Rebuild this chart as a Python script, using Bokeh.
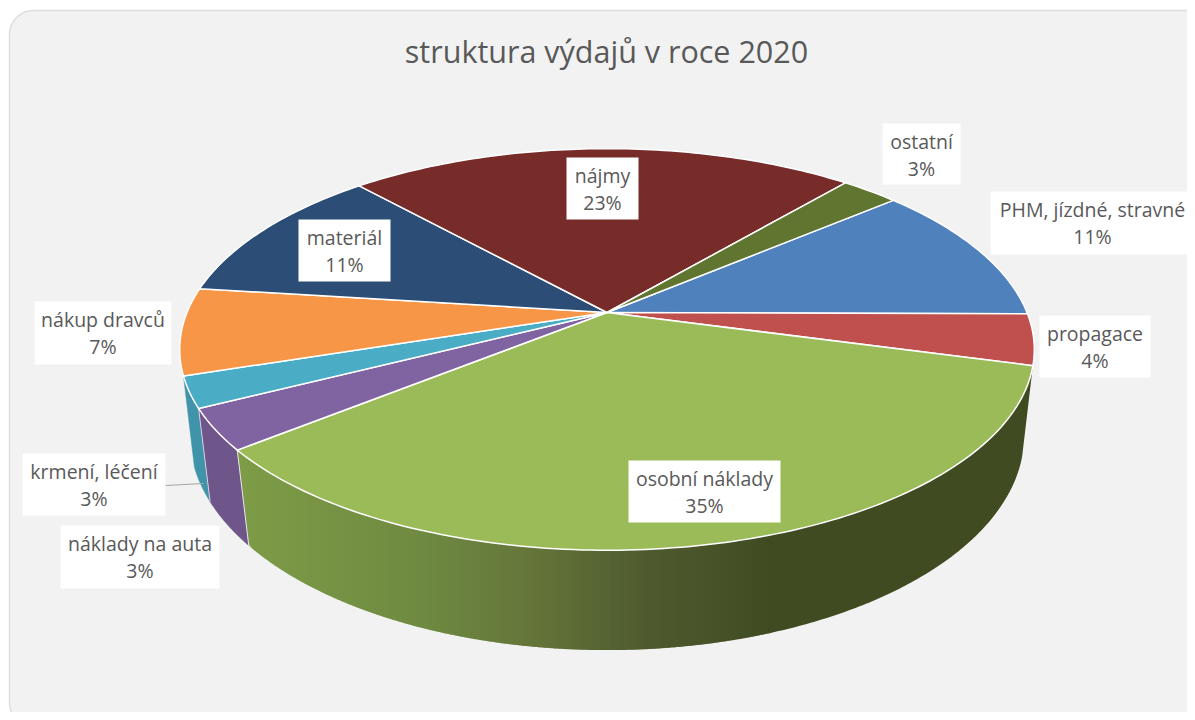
import numpy as np
from bokeh.plotting import figure
from bokeh.models import Range1d, ColumnDataSource
from bokeh.core.properties import value
from bokeh.embed import file_html
from bokeh.resources import INLINE

TITLE = "struktura výdajů v roce 2020"
categories = ["PHM, jízdné, stravné", "propagace", "osobní náklady", "náklady na auta",
              "krmení, léčení", "nákup dravců", "materiál", "nájmy", "ostatní"]
values = [11.3, 4.1, 35.0, 3.3, 2.5, 7.0, 11.3, 22.9, 2.6]
percent_labels = ["11%", "4%", "35%", "3%", "3%", "7%", "11%", "23%", "3%"]
top_colors = ["#4F81BD", "#C0504D", "#9BBB59", "#8064A2", "#4BACC6", "#F79646", "#2C4D75", "#772C2A", "#5F7530"]
# label layout (pixels of the picture)
box_left = [990, 1039, 628, 60, 22, 34, 298, 566, 882]
box_right = [1194, 1150, 780, 219, 165, 171, 390, 638, 960]
box_top = [191, 315, 460, 525, 453, 301, 219, 157, 123]
box_bottom = [254, 377, 522, 588, 515, 364, 281, 219, 184]
# shading of the big wall: x position -> colour
shade_x = [240, 420, 520, 640, 770]
shade_c = ["#7e9c47", "#6f8a41", "#66783b", "#505c2f", "#404b22"]

START_ANGLE = 49.7
FONT = "Open Sans"
W, H = 1187, 712

# perspective of the two rims
TOP = dict(cx=606.5, cy=312.0, A=420.0, B=194.0, k=0.184)
BOT = dict(cx=606.5, cy=399.0, A=411.0, B=208.0, k=0.17)


def project(deg, g=TOP):
    t = np.radians(deg)
    u, v = np.sin(t), -np.cos(t)
    d = 1 - g["k"] * v
    return g["cx"] + g["A"] * u / d, g["cy"] + g["B"] * v / d


def rgb(c):
    return np.array([int(c[i:i + 2], 16) for i in (1, 3, 5)], float)


def hexc(a):
    return "#%02x%02x%02x" % tuple(int(round(q)) for q in a)


def shade(x):
    cols = np.array([rgb(c) for c in shade_c])
    return hexc([np.interp(x, shade_x, cols[:, j]) for j in range(3)])


p = figure(width=W, height=H, x_range=Range1d(0, W), y_range=Range1d(H, 0),
           toolbar_location=None, output_backend="svg", min_border=0,
           background_fill_color="#ffffff", border_fill_color="#ffffff")
p.axis.visible = False
p.grid.visible = False
p.outline_line_color = None

# card
rad = 24
corner = np.radians(np.arange(0, 91, 6))
cl, ct, cr, cb = 9, 10, 1215, 726
card_x = list(cl + rad - rad * np.cos(corner)) + list(cr - rad + rad * np.sin(corner)) + \
    list(cr - rad + rad * np.cos(corner)) + list(cl + rad - rad * np.sin(corner))
card_y = list(ct + rad - rad * np.sin(corner)) + list(ct + rad - rad * np.cos(corner)) + \
    list(cb - rad + rad * np.sin(corner)) + list(cb - rad + rad * np.cos(corner))
p.patch(card_x, card_y, fill_color="#f2f2f2", line_color="#dedede", line_width=1.5)

# angles
fr = np.array(values) / sum(values) * 360
starts = START_ANGLE + np.concatenate([[0], np.cumsum(fr)[:-1]])
ends = starts + fr

# side wall of krmení, léčení and náklady na auta
for i in (4, 3):
    ang = np.linspace(starts[i], ends[i], 24)
    xt, yt = project(ang, TOP)
    xb, yb = project(ang, BOT)
    c = hexc(rgb(top_colors[i]) * 0.86)
    p.patch(list(xt) + list(xb[::-1]), list(yt) + list(yb[::-1]), fill_color=c, line_color=c, line_width=0.5)

# side wall of osobní náklady: dark right part, then vertical shaded bands
ang = np.linspace(starts[2], ends[2], 240)
xt, yt = project(ang, TOP)
xb, yb = project(ang, BOT)
lim = shade_x[-1] - 4
mt, mb = xt >= lim, xb >= lim
p.patch(list(xt[mt]) + list(xb[mb][::-1]), list(yt[mt]) + list(yb[mb][::-1]),
        fill_color=shade_c[-1], line_color=None)
# going left to right along the rims
up_x, up_y = xt[::-1], yt[::-1]
low_x = np.concatenate([[xt[-1]], xb[::-1]])
low_y = np.concatenate([[yt[-1]], yb[::-1]])
keep_up = up_x < 1000
keep_low = low_x < 1000
step = 2
for x0 in np.arange(np.floor(up_x[0]), shade_x[-1], step):
    x1 = x0 + step + 1
    xs = np.array([x0, x1])
    yu = np.interp(xs, up_x[keep_up], up_y[keep_up])
    yl = np.interp(xs, low_x[keep_low], low_y[keep_low])
    c = shade(x0 + step / 2)
    p.patch([x0, x1, x1, x0], [yu[0], yu[1], yl[1], yl[0]], fill_color=c, line_color=None)

# seams between wall pieces
for ang_s, col in ((ends[2], "#e8e4ee"), (ends[3], "#d9d2e2")):
    xa, ya = project(ang_s, TOP)
    xz, yz = project(ang_s, BOT)
    p.line([xa, xz], [ya, yz], line_color=col, line_width=1)

# top slices
for i in range(len(values)):
    ang = np.linspace(starts[i], ends[i], max(3, int(fr[i])) + 1)
    xs, ys = project(ang, TOP)
    p.patch([TOP["cx"]] + list(xs), [TOP["cy"]] + list(ys), fill_color=top_colors[i],
            line_color="#ffffff", line_width=1.5, line_join="round")

# leader line of krmení, léčení
p.line([box_right[4], 203], [485, 483], line_color="#a6a6a6", line_width=1.2)

# boxes and labels
p.quad(left=box_left, right=box_right, top=box_top, bottom=box_bottom,
       fill_color="#ffffff", line_color=None)
cx = [(a + b) / 2 for a, b in zip(box_left, box_right)]
src1 = ColumnDataSource(dict(x=cx, y=[t + 18 for t in box_top], t=categories))
src2 = ColumnDataSource(dict(x=cx, y=[t + 45 for t in box_top], t=percent_labels))
for s in (src1, src2):
    p.text("x", "y", text="t", source=s, text_font=value(FONT), text_font_size="19.5px",
           text_color="#595959", text_align="center", text_baseline="middle")

p.text([606], [50], text=[TITLE], text_font=value(FONT), text_font_size="30.5px",
       text_color="#595959", text_align="center", text_baseline="middle")

open("out.html", "w").write(file_html(p, INLINE))
